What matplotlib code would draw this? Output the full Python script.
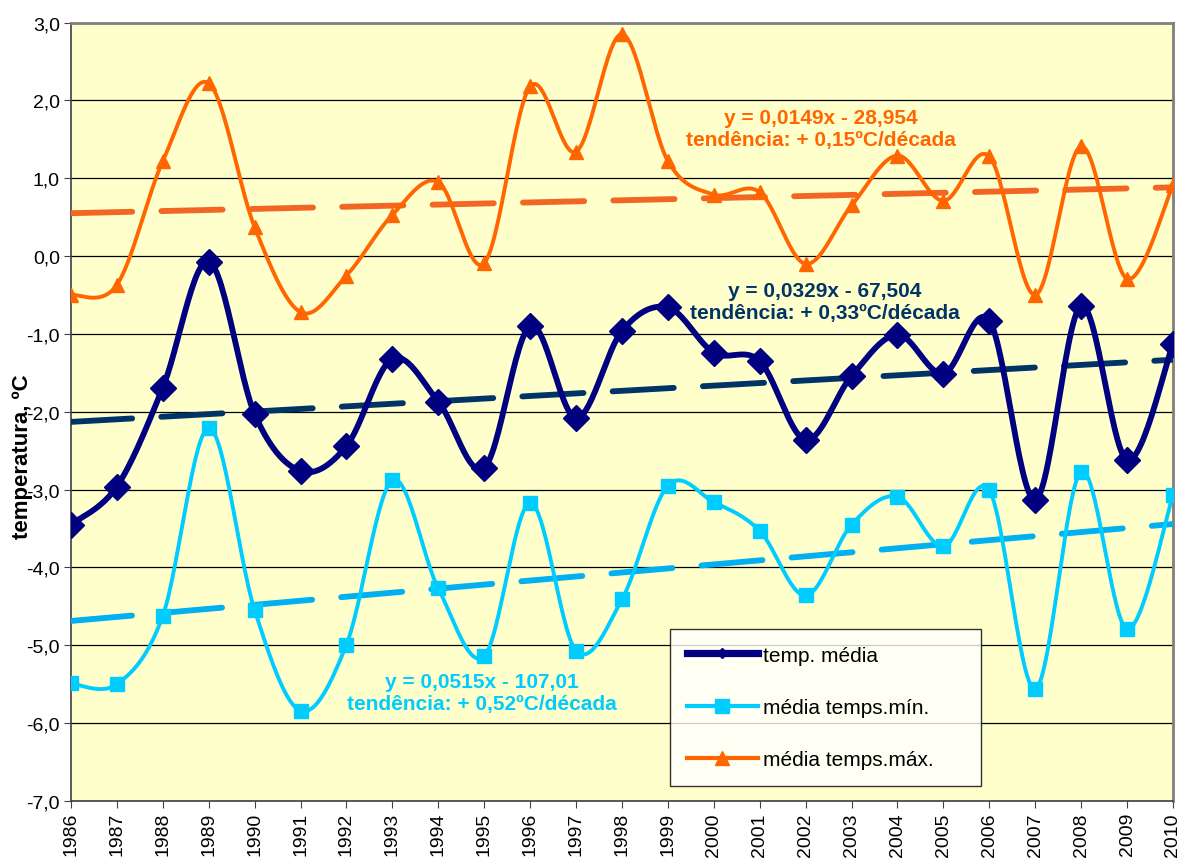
import matplotlib.pyplot as plt
import numpy as np

# dados
anos = list(range(1986, 2011))
temp_media = [-3.45, -2.96, -1.69, -0.07, -2.03, -2.76, -2.44, -1.32, -1.87, -2.72,
              -0.90, -2.08, -0.96, -0.66, -1.24, -1.35, -2.36, -1.54, -1.01, -1.51,
              -0.83, -3.13, -0.64, -2.62, -1.13]
temp_min = [-5.49, -5.50, -4.62, -2.21, -4.55, -5.84, -4.99, -2.88, -4.27, -5.14,
            -3.17, -5.07, -4.41, -2.95, -3.16, -3.53, -4.36, -3.45, -3.09, -3.73,
            -3.01, -5.56, -2.77, -4.79, -3.07]
temp_max = [-0.50, -0.37, 1.22, 2.22, 0.37, -0.72, -0.25, 0.53, 0.95, -0.09,
            2.18, 1.34, 2.85, 1.22, 0.79, 0.82, -0.10, 0.65, 1.29, 0.71,
            1.28, -0.50, 1.41, -0.29, 0.91]

eq_max = ['y = 0,0149x - 28,954', 'tendência: + 0,15ºC/década']
eq_med = ['y = 0,0329x - 67,504', 'tendência: + 0,33ºC/década']
eq_min = ['y = 0,0515x - 107,01', 'tendência: + 0,52ºC/década']

C_MED = '#000080'
C_MIN = '#00CCFF'
C_MAX = '#FF6600'
T_MED = '#003366'
T_MIN = '#00B0F0'
T_MAX = '#F26522'
FONTE = 'Liberation Sans'


def suavizar(x, y, n=30):
    """Curva suave tipo Excel (Catmull-Rom / Bezier)"""
    x = np.asarray(x, float)
    y = np.asarray(y, float)
    xs, ys = [], []
    for i in range(len(x) - 1):
        p0 = (x[max(i - 1, 0)], y[max(i - 1, 0)])
        p1 = (x[i], y[i])
        p2 = (x[i + 1], y[i + 1])
        p3 = (x[min(i + 2, len(x) - 1)], y[min(i + 2, len(x) - 1)])
        c1 = (p1[0] + (p2[0] - p0[0]) / 6, p1[1] + (p2[1] - p0[1]) / 6)
        c2 = (p2[0] - (p3[0] - p1[0]) / 6, p2[1] - (p3[1] - p1[1]) / 6)
        t = np.linspace(0, 1, n)
        for k in range(2):
            pts = [p1[k], c1[k], c2[k], p2[k]]
            b = ((1 - t) ** 3 * pts[0] + 3 * (1 - t) ** 2 * t * pts[1]
                 + 3 * (1 - t) * t ** 2 * pts[2] + t ** 3 * pts[3])
            (xs if k == 0 else ys).append(b)
    return np.concatenate(xs), np.concatenate(ys)


fig = plt.figure(figsize=(11.81, 8.62), dpi=100)
ax = fig.add_axes((0.0601, 0.0696, 0.9331, 0.9031))
ax.set_facecolor('#FFFFCC')

# (valores, cor, cor tendência, marcador, espessura, tam. marcador, nome, marcador legenda, espessura legenda)
series = [
    (temp_media, C_MED, T_MED, 'D', 4.2, 13, 'temp. média', 5, 5.2),
    (temp_min, C_MIN, T_MIN, 's', 2.8, 10, 'média temps.mín.', 10, 3.0),
    (temp_max, C_MAX, T_MAX, '^', 2.8, 10, 'média temps.máx.', 10, 3.0),
]

handles = []
for vals, cor, cor_t, mk, lw, ms, nome, ms_leg, lw_leg in series:
    xs, ys = suavizar(anos, vals)
    ax.plot(xs, ys, color=cor, lw=lw, zorder=4)
    ax.plot(anos, vals, ls='none', marker=mk, color=cor, ms=ms, zorder=5)
    h, = ax.plot([], [], color=cor, lw=lw_leg, marker=mk, ms=ms_leg, label=nome)
    handles.append(h)
    a, b = np.polyfit(anos, vals, 1)
    xt = np.array([anos[0], anos[-1]])
    ax.plot(xt, a * xt + b, color=cor_t, lw=4.2, ls=(0, (10.5, 5)),
            dash_capstyle='round', zorder=3)

ax.set_xlim(1986, 2010)
ax.set_ylim(-7, 3)
ax.set_yticks(np.arange(-7, 3.1, 1))
ax.set_yticklabels([f'{v:.1f}'.replace('.', ',') for v in np.arange(-7, 3.1, 1)],
                   fontsize=14, family=FONTE)
ax.set_xticks(anos)
ax.set_xticklabels([str(a) for a in anos], rotation=90, fontsize=14, family=FONTE)
ax.grid(axis='y', color='black', lw=0.9)
ax.set_axisbelow(True)
ax.tick_params(length=5, color='#404040', pad=3)
for s in ['top', 'right']:
    ax.spines[s].set_color('#808080')
    ax.spines[s].set_linewidth(2)
for s in ['left', 'bottom']:
    ax.spines[s].set_color('#404040')
    ax.spines[s].set_linewidth(1.2)

ax.set_ylabel('temperatura, ºC', fontsize=16, fontweight='bold', family=FONTE)
ax.yaxis.set_label_coords(-0.0345, 0.444)

fnt = dict(fontsize=15, fontweight='bold', family=FONTE,
           ha='center', va='center', zorder=6, linespacing=1.2)
ax.text(2002.33, 1.64, '\n'.join(eq_max), color=C_MAX, **fnt)
ax.text(2002.42, -0.58, '\n'.join(eq_med), color=T_MED, **fnt)
ax.text(1994.95, -5.60, '\n'.join(eq_min), color=C_MIN, **fnt)

leg = ax.legend(handles=handles, loc='lower left',
                bbox_to_anchor=(0.5436, 0.0193, 0.2822, 0.2118), mode='expand',
                prop={'family': FONTE, 'size': 15},
                frameon=True, fancybox=False, edgecolor='black',
                labelspacing=1.6, handlelength=3.4, borderpad=0.8,
                handletextpad=0.25, borderaxespad=0)
leg.get_frame().set_linewidth(1)
leg.set_zorder(7)

fig.savefig('out.png', dpi=100)
